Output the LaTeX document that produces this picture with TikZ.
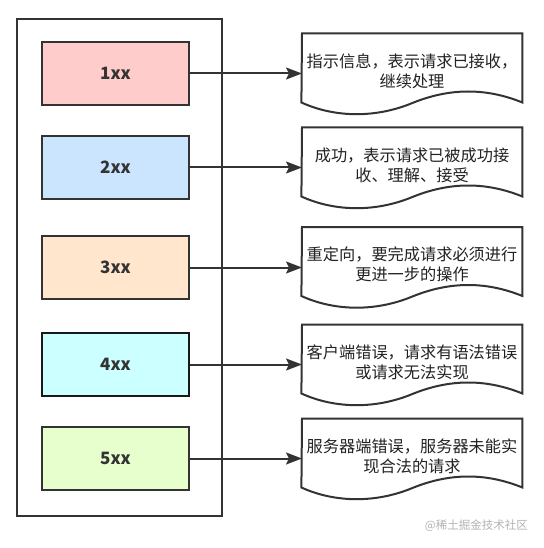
\documentclass[tikz,border=0pt]{standalone}
\usepackage{fontspec}
\setmainfont{Noto Sans CJK SC}
\usetikzlibrary{arrows.meta}
\definecolor{c1}{HTML}{FFCCCC}
\definecolor{c2}{HTML}{CCE5FF}
\definecolor{c3}{HTML}{FFE6CC}
\definecolor{c4}{HTML}{CCFFFF}
\definecolor{c5}{HTML}{E6FFCC}
\definecolor{ink}{HTML}{333333}
\definecolor{txt}{HTML}{222222}
\newcommand\docshape[4]{%
  \node[docarea, anchor=north west] (#1) at (302,#2) {};
  \draw[docline] (#1.north west) -- (#1.north east) -- ++(0,69)
     .. controls ++(-37,-15) and ++(37,-15) .. ++(-110,0.5)
     .. controls ++(-36,15) and ++(34,15.5) .. ++(-111,-0.5) -- cycle;
  \node[doctext] (#3) at (412,#2+37.5) {#4};
}
\begin{document}
\begin{tikzpicture}[x=1pt,y=-1pt,
  frame/.style={draw=ink, line width=2pt, minimum width=205pt, minimum height=497pt, inner sep=0pt},
  codebox/.style={draw=ink, line width=2.2pt, minimum width=147pt, minimum height=63pt, inner sep=0pt,
     font=\fontsize{17}{20}\selectfont\bfseries, text=ink},
  docarea/.style={minimum width=220pt, minimum height=69pt, inner sep=0pt, draw=none},
  docline/.style={draw=ink, line width=2pt, fill=white},
  doctext/.style={align=center, font=\fontsize{16.2}{20}\selectfont, text=txt, inner sep=0pt},
  arr/.style={draw=ink, line width=2pt, -{Stealth[length=16pt,width=12pt,inset=3pt]}},
  wmark/.style={text=black!30, font=\fontsize{11.5}{13}\selectfont, inner sep=0pt}
]
\useasboundingbox (0,0) rectangle (543,548);
\node[frame] (outer) at (119.5,267.5) {};
\node[codebox, fill=c1] (b1) at (115.5,73.5) {1xx};
\node[codebox, fill=c2] (b2) at (115.5,167.5) {2xx};
\node[codebox, fill=c3] (b3) at (115.5,267.5) {3xx};
\node[codebox, fill=c4, draw=black!90] (b4) at (115.5,364.5) {4xx};
\node[codebox, fill=c5] (b5) at (115.5,458.5) {5xx};
\docshape{d1}{33.5}{t1}{指示信息，表示请求已接收，\\继续处理}
\docshape{d2}{127.5}{t2}{成功，表示请求已被成功接\\收、理解、接受}
\docshape{d3}{227}{t3}{重定向，要完成请求必须进行\\更进一步的操作}
\docshape{d4}{324.5}{t4}{客户端错误，请求有语法错误\\或请求无法实现}
\docshape{d5}{418.5}{t5}{服务器端错误，服务器未能实\\现合法的请求}
\foreach \i in {1,...,5} {
  \draw[arr] (b\i.east) -- (b\i.east -| d\i.west);
}
\node[wmark, anchor=east] (wm) at (528,526) {@稀土掘金技术社区};
\end{tikzpicture}
\end{document}
